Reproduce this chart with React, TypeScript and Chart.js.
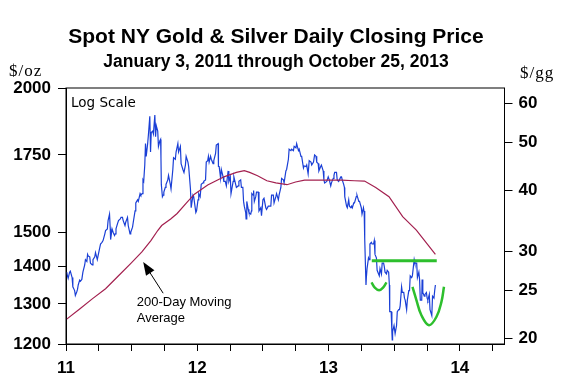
import React, { useEffect, useRef } from "react";
import { Chart, registerables } from "chart.js";

Chart.register(...registerables);

// ---------- DATA ----------
const goldDates = [
  "2011-01-03","2011-01-05","2011-01-07","2011-01-11","2011-01-13","2011-01-18","2011-01-20","2011-01-25","2011-01-27","2011-01-31",
  "2011-02-02","2011-02-04","2011-02-08","2011-02-10","2011-02-14","2011-02-17","2011-02-22","2011-02-24","2011-02-28",
  "2011-03-02","2011-03-04","2011-03-08","2011-03-10","2011-03-15","2011-03-17","2011-03-22","2011-03-24","2011-03-29","2011-03-31",
  "2011-04-05","2011-04-07","2011-04-11","2011-04-14","2011-04-19","2011-04-21","2011-04-26","2011-04-28",
  "2011-05-02","2011-05-04","2011-05-05","2011-05-09","2011-05-12","2011-05-16","2011-05-18","2011-05-20","2011-05-24","2011-05-27",
  "2011-06-01","2011-06-03","2011-06-07","2011-06-09","2011-06-14","2011-06-16","2011-06-21","2011-06-23","2011-06-28","2011-06-30",
  "2011-07-05","2011-07-07","2011-07-12","2011-07-14","2011-07-19","2011-07-21","2011-07-26","2011-07-28",
  "2011-08-01","2011-08-03","2011-08-05","2011-08-08","2011-08-10","2011-08-12","2011-08-16","2011-08-18","2011-08-22","2011-08-24","2011-08-26","2011-08-30",
  "2011-09-01","2011-09-05","2011-09-07","2011-09-09","2011-09-13","2011-09-15","2011-09-19","2011-09-21","2011-09-22","2011-09-23","2011-09-26","2011-09-28","2011-09-30",
  "2011-10-04","2011-10-06","2011-10-11","2011-10-13","2011-10-18","2011-10-20","2011-10-25","2011-10-27",
  "2011-11-01","2011-11-03","2011-11-08","2011-11-10","2011-11-15","2011-11-17","2011-11-22","2011-11-25","2011-11-29",
  "2011-12-01","2011-12-06","2011-12-08","2011-12-13","2011-12-15","2011-12-20","2011-12-22","2011-12-28","2011-12-30",
  "2012-01-03","2012-01-05","2012-01-09","2012-01-12","2012-01-17","2012-01-19","2012-01-24","2012-01-26","2012-01-30",
  "2012-02-01","2012-02-03","2012-02-07","2012-02-09","2012-02-14","2012-02-16","2012-02-21","2012-02-23","2012-02-28","2012-02-29",
  "2012-03-02","2012-03-06","2012-03-08","2012-03-13","2012-03-15","2012-03-19","2012-03-22","2012-03-27","2012-03-29",
  "2012-04-02","2012-04-04","2012-04-10","2012-04-12","2012-04-17","2012-04-19","2012-04-24","2012-04-26",
  "2012-05-01","2012-05-03","2012-05-07","2012-05-09","2012-05-11","2012-05-15","2012-05-16","2012-05-18","2012-05-22","2012-05-24","2012-05-29","2012-05-31",
  "2012-06-01","2012-06-05","2012-06-06","2012-06-08","2012-06-12","2012-06-14","2012-06-19","2012-06-21","2012-06-26","2012-06-28",
  "2012-07-02","2012-07-05","2012-07-10","2012-07-12","2012-07-17","2012-07-19","2012-07-24","2012-07-26","2012-07-31",
  "2012-08-02","2012-08-07","2012-08-09","2012-08-14","2012-08-16","2012-08-21","2012-08-23","2012-08-28","2012-08-30",
  "2012-09-04","2012-09-06","2012-09-11","2012-09-13","2012-09-18","2012-09-20","2012-09-25","2012-09-27",
  "2012-10-02","2012-10-04","2012-10-09","2012-10-11","2012-10-16","2012-10-18","2012-10-23","2012-10-25","2012-10-30",
  "2012-11-01","2012-11-05","2012-11-08","2012-11-13","2012-11-15","2012-11-20","2012-11-23","2012-11-27","2012-11-29",
  "2012-12-03","2012-12-05","2012-12-10","2012-12-12","2012-12-17","2012-12-19","2012-12-21","2012-12-27","2012-12-31",
  "2013-01-03","2013-01-07","2013-01-09","2013-01-14","2013-01-16","2013-01-18","2013-01-23","2013-01-25","2013-01-29","2013-01-31",
  "2013-02-04","2013-02-06","2013-02-08","2013-02-12","2013-02-14","2013-02-15","2013-02-20","2013-02-22","2013-02-26","2013-02-28",
  "2013-03-04","2013-03-06","2013-03-08","2013-03-12","2013-03-14","2013-03-19","2013-03-21","2013-03-26","2013-03-28",
  "2013-04-02","2013-04-04","2013-04-08","2013-04-10","2013-04-11","2013-04-12","2013-04-15","2013-04-16","2013-04-18","2013-04-22","2013-04-24","2013-04-26","2013-04-30",
  "2013-05-02","2013-05-06","2013-05-08","2013-05-10","2013-05-14","2013-05-16","2013-05-20","2013-05-22","2013-05-24","2013-05-28","2013-05-30",
  "2013-06-03","2013-06-05","2013-06-07","2013-06-11","2013-06-13","2013-06-17","2013-06-19","2013-06-20","2013-06-24","2013-06-26","2013-06-27","2013-06-28",
  "2013-07-02","2013-07-05","2013-07-09","2013-07-11","2013-07-15","2013-07-17","2013-07-19","2013-07-23","2013-07-25","2013-07-29","2013-07-31",
  "2013-08-02","2013-08-06","2013-08-08","2013-08-12","2013-08-14","2013-08-16","2013-08-20","2013-08-22","2013-08-27","2013-08-29",
  "2013-09-03","2013-09-05","2013-09-09","2013-09-11","2013-09-13","2013-09-17","2013-09-18","2013-09-20","2013-09-24","2013-09-26","2013-09-30",
  "2013-10-02","2013-10-04","2013-10-08","2013-10-10","2013-10-15","2013-10-17","2013-10-21","2013-10-23","2013-10-25",
];

const goldPrices = [
  1385,1375,1368,1385,1388,1370,1345,1335,1322,1332,
  1338,1350,1363,1360,1365,1385,1405,1420,1415,
  1435,1430,1428,1410,1405,1420,1428,1440,1420,1430,
  1455,1465,1470,1475,1495,1505,1510,1535,
  1555,1510,1478,1510,1500,1490,1495,1510,1525,1535,
  1540,1545,1545,1535,1520,1530,1545,1520,1495,1500,
  1515,1530,1565,1590,1600,1595,1620,1615,
  1620,1665,1660,1715,1790,1745,1790,1820,1890,1760,1830,1835,
  1825,1895,1815,1855,1835,1780,1800,1805,1740,1650,1610,1615,1625,
  1640,1650,1665,1680,1650,1635,1700,1740,
  1735,1760,1790,1760,1780,1720,1700,1690,1715,
  1745,1725,1710,1635,1575,1615,1610,1560,1565,
  1600,1620,1610,1650,1655,1660,1665,1725,1730,
  1745,1725,1745,1735,1720,1730,1755,1785,1790,1710,
  1710,1670,1700,1675,1660,1660,1645,1695,1660,
  1675,1620,1660,1675,1650,1640,1645,1660,
  1665,1640,1640,1595,1580,1560,1540,1595,1570,1560,1555,1565,
  1620,1615,1630,1595,1610,1625,1625,1565,1575,1550,
  1600,1605,1575,1570,1580,1580,1580,1615,1615,
  1590,1610,1620,1600,1615,1640,1670,1665,1655,
  1695,1700,1735,1770,1765,1770,1765,1780,
  1775,1790,1765,1770,1745,1745,1705,1712,1710,
  1715,1685,1730,1725,1715,1725,1750,1745,1725,
  1720,1695,1710,1715,1695,1665,1655,1660,1675,
  1665,1645,1655,1670,1680,1690,1690,1665,1660,1665,
  1675,1675,1665,1650,1640,1610,1580,1575,1600,1580,
  1575,1580,1575,1590,1590,1610,1615,1595,1595,
  1575,1555,1575,1560,1565,1480,1350,1370,1395,1425,1420,1465,1470,
  1465,1465,1475,1435,1425,1390,1380,1375,1395,1380,1410,
  1410,1400,1385,1380,1390,1385,1350,1280,1280,1230,1210,1230,
  1245,1225,1245,1280,1285,1285,1295,1345,1330,1330,1315,
  1310,1285,1310,1335,1335,1375,1370,1375,1420,1410,
  1410,1370,1385,1365,1310,1310,1365,1330,1320,1325,1330,
  1315,1310,1325,1285,1270,1320,1315,1335,1350,
];

const maDates = [
  "2011-01-03","2011-02-08","2011-03-15","2011-04-21","2011-05-27","2011-07-01","2011-07-31","2011-08-25",
  "2011-09-13","2011-09-24","2011-10-19","2011-11-06","2011-12-02","2011-12-24","2012-01-30","2012-03-17",
  "2012-04-19","2012-05-11","2012-05-26","2012-06-17","2012-07-13","2012-08-07","2012-09-07","2012-10-01",
  "2012-10-26","2013-01-01","2013-02-06","2013-03-14","2013-04-11","2013-05-12","2013-06-18","2013-07-26",
  "2013-09-02","2013-10-25",
];
const maValues = [
  1261,1287,1313,1340,1375,1410,1442,1475,
  1505,1520,1540,1557,1590,1618,1648,1676,
  1690,1696,1690,1679,1662,1655,1649,1658,
  1664,1664,1664,1662,1661,1640,1610,1547,
  1506,1435,
];

// green annotations (decimal years since 2000, $/oz)
const resistanceX = [13.329, 13.824];
const resistanceY = [1417, 1417];
const cup1X = [13.327, 13.352, 13.385, 13.415, 13.441];
const cup1Y = [1357, 1343, 1336, 1343, 1357];
const cup2X = [13.639, 13.669, 13.707, 13.765, 13.822, 13.86, 13.879];
const cup2Y = [1345, 1310, 1271, 1246, 1267, 1306, 1345];

// arrow for the moving-average note
const arrowTip = { x: 11.588, y: 1413 };
const arrowTail = { x: 11.74, y: 1328 };
const noteAnchor = { x: 11.539, y: 1305 };
const noteLines = ["200-Day Moving", "Average"];

const xTicks = [11, 11.25, 11.5, 11.75, 12, 12.25, 12.5, 12.75, 13, 13.25, 13.5, 13.75, 14, 14.25];
const leftTicks = [1200, 1300, 1400, 1500, 1750, 2000];
const rightTicks = [20, 25, 30, 40, 50, 60];

const titleText = "Spot NY Gold & Silver Daily Closing Price";
const subtitleText = "January 3, 2011 through October 25, 2013";

function toYear(d: string): number {
  const [y, m, dd] = d.split("-").map(Number);
  const start = Date.UTC(y, 0, 1);
  const len = Date.UTC(y + 1, 0, 1) - start;
  return y - 2000 + (Date.UTC(y, m - 1, dd) - start) / len;
}

const SANS = '"Liberation Sans", Arial, sans-serif';

const decorPlugin = {
  id: "decor",
  afterDraw(chart: any) {
    const { ctx, chartArea, scales } = chart;
    const sx = scales.x, sy = scales.y;
    ctx.save();
    // frame
    ctx.strokeStyle = "#000";
    ctx.lineWidth = 1;
    ctx.strokeRect(chartArea.left, chartArea.top, chartArea.right - chartArea.left, chartArea.bottom - chartArea.top);

    // titles
    ctx.fillStyle = "#000";
    ctx.textAlign = "center";
    ctx.textBaseline = "middle";
    ctx.font = "bold 21px " + SANS;
    ctx.fillText(titleText, 276, 37);
    ctx.font = "bold 17.5px " + SANS;
    ctx.fillText(subtitleText, 276, 62);

    // axis units
    ctx.font = '17px "Liberation Serif", "Times New Roman", serif';
    (ctx as any).letterSpacing = "1px";
    ctx.textAlign = "left";
    ctx.fillText("$/oz", 9, 72);
    ctx.fillText("$/gg", 520, 74);
    (ctx as any).letterSpacing = "0px";

    // Log Scale note
    ctx.font = '13.5px "DejaVu Sans", sans-serif';
    ctx.textAlign = "left";
    ctx.fillText("Log Scale", chartArea.left + 5, chartArea.top + 15);

    // arrow
    const tx = sx.getPixelForValue(arrowTip.x), ty = sy.getPixelForValue(arrowTip.y);
    const bx = sx.getPixelForValue(arrowTail.x), by = sy.getPixelForValue(arrowTail.y);
    const ang = Math.atan2(ty - by, tx - bx);
    const hl = 13, hw = 5;
    ctx.beginPath();
    ctx.moveTo(bx, by);
    ctx.lineTo(tx - Math.cos(ang) * (hl - 2), ty - Math.sin(ang) * (hl - 2));
    ctx.lineWidth = 1;
    ctx.stroke();
    ctx.beginPath();
    ctx.moveTo(tx, ty);
    ctx.lineTo(tx - Math.cos(ang) * hl - Math.sin(ang) * hw, ty - Math.sin(ang) * hl + Math.cos(ang) * hw);
    ctx.lineTo(tx - Math.cos(ang) * hl + Math.sin(ang) * hw, ty - Math.sin(ang) * hl - Math.cos(ang) * hw);
    ctx.closePath();
    ctx.fill();

    // note text
    ctx.font = "13px " + SANS;
    const nx = sx.getPixelForValue(noteAnchor.x), ny = sy.getPixelForValue(noteAnchor.y);
    noteLines.forEach((l, i) => ctx.fillText(l, nx, ny + i * 16));
    ctx.restore();
  },
};

export default function App() {
  const ref = useRef<HTMLCanvasElement>(null);
  useEffect(() => {
    if (!ref.current) return;
    const gold = goldDates.map((d, i) => ({ x: toYear(d), y: goldPrices[i] }));
    const ma = maDates.map((d, i) => ({ x: toYear(d), y: maValues[i] }));
    const res = resistanceX.map((x, i) => ({ x, y: resistanceY[i] }));
    const c1 = cup1X.map((x, i) => ({ x, y: cup1Y[i] }));
    const c2 = cup2X.map((x, i) => ({ x, y: cup2Y[i] }));
    const green = "#2dbf2d";
    const chart = new Chart(ref.current, {
      type: "line",
      data: {
        datasets: [
          { data: res, borderColor: green, borderWidth: 3, pointRadius: 0, yAxisID: "y", order: 0 },
          { data: c1, borderColor: green, borderWidth: 2.5, pointRadius: 0, tension: 0.4, yAxisID: "y", order: 0 },
          { data: c2, borderColor: green, borderWidth: 2.5, pointRadius: 0, tension: 0.4, yAxisID: "y", order: 0 },
          { data: gold, borderColor: "#1a3fd6", borderWidth: 1.2, pointRadius: 0, yAxisID: "y", order: 2 },
          { data: ma, borderColor: "#a3204f", borderWidth: 1.2, pointRadius: 0, yAxisID: "y", order: 1 },
        ] as any,
      },
      options: {
        animation: false,
        responsive: false,
        events: [],
        layout: { padding: { top: 88, left: 0, right: 0, bottom: 0 } },
        plugins: { legend: { display: false }, tooltip: { enabled: false }, title: { display: false } },
        scales: {
          x: {
            type: "linear",
            min: 11,
            max: 14.34,
            afterBuildTicks: (s: any) => { s.ticks = xTicks.map((v) => ({ value: v })); },
            afterFit: (s: any) => { s.height = 45; },
            ticks: {
              autoSkip: false,
              maxRotation: 0,
              padding: 7,
              color: "#000",
              font: { family: SANS, size: 17, weight: "bold" },
              callback: (v: any) => (Number.isInteger(v) ? String(v) : ""),
            },
            grid: { drawOnChartArea: false, drawTicks: true, tickLength: 7, color: "#000" },
            border: { display: true, color: "#000" },
          },
          y: {
            type: "logarithmic",
            position: "left",
            min: 1200,
            max: 2000,
            afterBuildTicks: (s: any) => { s.ticks = leftTicks.map((v) => ({ value: v })); },
            afterFit: (s: any) => { s.width = 66; },
            ticks: {
              autoSkip: false,
              padding: 7,
              color: "#000",
              font: { family: SANS, size: 17, weight: "bold" },
              callback: (v: any) => String(v),
            },
            grid: { drawOnChartArea: false, drawTicks: true, tickLength: 8, color: "#000" },
            border: { display: true, color: "#000" },
          },
          y2: {
            type: "logarithmic",
            position: "right",
            min: 19.47,
            max: 64.45,
            afterBuildTicks: (s: any) => { s.ticks = rightTicks.map((v) => ({ value: v })); },
            afterFit: (s: any) => { s.width = 60.5; },
            ticks: {
              autoSkip: false,
              padding: 6,
              color: "#000",
              font: { family: SANS, size: 17, weight: "bold" },
              callback: (v: any) => String(v),
            },
            grid: { drawOnChartArea: false, drawTicks: true, tickLength: 8, color: "#000" },
            border: { display: true, color: "#000" },
          },
        },
      } as any,
      plugins: [decorPlugin],
    });
    return () => chart.destroy();
  }, []);
  return (
    <div style={{ position: "absolute", left: 0, top: 0, width: 565, height: 389, background: "#fff" }}>
      <canvas ref={ref} width={565} height={389} />
    </div>
  );
}
